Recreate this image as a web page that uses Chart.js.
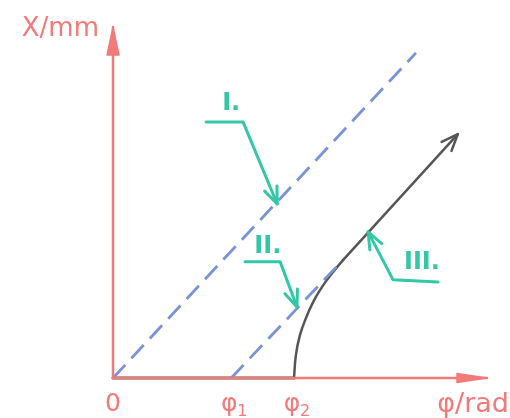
<!DOCTYPE html>
<html><head><meta charset="utf-8">
<script src="https://cdn.jsdelivr.net/npm/chart.js@4"></script>
<style>html,body{margin:0;padding:0;background:#fff}#c{display:block}</style>
</head><body>
<canvas id="c" width="510" height="418"></canvas>
<script>
// ---- data (arbitrary units) ----
const xAxisTitle = 'φ/rad';
const yAxisTitle = 'X/mm';
const tickValues = [0, 3.16, 4.84];
const tickNames = ['0', 'φ', 'φ'];
const tickSubs = ['', '1', '2'];
const axisXLine = [{x:0,y:0},{x:10,y:0}];
const axisYLine = [{x:0,y:0},{x:0,y:9.94}];
const lineI = [{x:0,y:0},{x:8.10,y:9.21}];
const lineII = [{x:3.16,y:0},{x:6.02,y:3.20}];
const curveIIIFlat = [{x:0,y:0},{x:4.84,y:0}];
const curveIIIBend = [{x:4.84,y:0},{x:4.89,y:0.65},{x:5.00,y:1.22},{x:5.16,y:1.70},{x:5.35,y:2.15},{x:5.59,y:2.58},{x:5.86,y:2.97},{x:6.15,y:3.34}];
const curveIIIRise = [{x:6.15,y:3.34},{x:9.22,y:6.91}];
const calloutNames = ['I.', 'II.', 'III.'];
const calloutTextAt = [{x:3.16,y:7.78},{x:4.14,y:3.71},{x:8.26,y:3.26}];
const calloutI = [{x:2.49,y:7.25},{x:3.48,y:7.25},{x:4.39,y:4.93}];
const calloutII = [{x:3.53,y:3.29},{x:4.47,y:3.29},{x:4.92,y:2.01}];
const calloutIII = [{x:8.69,y:2.72},{x:7.49,y:2.78},{x:6.82,y:4.14}];

// ---- styles ----
const RED = '#f27a7a', BLUE = '#7a92d6', GREY = '#565656', TEAL = '#33c7a6';

function ds(data, color, width, extra) {
  return Object.assign({data, borderColor: color, backgroundColor: color, borderWidth: width,
    showLine: true, pointRadius: 0, pointHoverRadius: 0, clip: false, tension: 0,
    borderCapStyle: 'round', borderJoinStyle: 'round'}, extra || {});
}

const datasets = [
  ds(axisXLine, RED, 2.5, {arrow: 'filledX'}),
  ds(axisYLine, RED, 2.5, {arrow: 'filledY'}),
  ds(lineI, BLUE, 2.8, {borderDash: [18, 9], borderCapStyle: 'butt'}),
  ds(lineII, BLUE, 2.8, {borderDash: [18, 9], borderCapStyle: 'butt'}),
  ds(curveIIIFlat, GREY, 3),
  ds(curveIIIBend, GREY, 2.5, {tension: 0.4}),
  ds(curveIIIRise, GREY, 2.5, {arrow: 'open'}),
  ds(calloutI, TEAL, 3, {arrow: 'open'}),
  ds(calloutII, TEAL, 3, {arrow: 'open'}),
  ds(calloutIII, TEAL, 3, {arrow: 'open'})
];

const sketchPlugin = {
  id: 'sketch',
  afterDatasetsDraw(chart) {
    const ctx = chart.ctx, xs = chart.scales.x, ys = chart.scales.y;
    const P = p => [xs.getPixelForValue(p.x), ys.getPixelForValue(p.y)];
    ctx.save();
    chart.data.datasets.forEach(d => {
      if (!d.arrow) return;
      const n = d.data.length;
      const [x1, y1] = P(d.data[n - 2]);
      const [x2, y2] = P(d.data[n - 1]);
      const a = Math.atan2(y2 - y1, x2 - x1);
      ctx.strokeStyle = d.borderColor; ctx.fillStyle = d.borderColor;
      ctx.lineWidth = d.borderWidth; ctx.lineCap = 'round'; ctx.lineJoin = 'round';
      if (d.arrow === 'open') {
        const L = 18, w = 0.38;
        ctx.beginPath();
        ctx.moveTo(x2 - L * Math.cos(a - w), y2 - L * Math.sin(a - w));
        ctx.lineTo(x2, y2);
        ctx.lineTo(x2 - L * Math.cos(a + w), y2 - L * Math.sin(a + w));
        ctx.stroke();
      } else {
        const L = d.arrow === 'filledY' ? 28 : 30, h = d.arrow === 'filledY' ? 6 : 4.5;
        const bx = x2 - L * Math.cos(a), by = y2 - L * Math.sin(a);
        const nx = -Math.sin(a), ny = Math.cos(a);
        ctx.lineWidth = 1.5;
        ctx.beginPath();
        ctx.moveTo(x2, y2);
        ctx.lineTo(bx + h * nx, by + h * ny);
        ctx.lineTo(bx - h * nx, by - h * ny);
        ctx.closePath();
        ctx.fill(); ctx.stroke();
      }
    });
    // axis titles
    ctx.fillStyle = RED;
    ctx.textBaseline = 'alphabetic';
    ctx.font = '26px "DejaVu Sans"';
    ctx.textAlign = 'right';
    const [ox, oy] = P({x:0, y:0});
    ctx.fillText(yAxisTitle, ox - 14, 36);
    ctx.font = '27px "DejaVu Sans"';
    ctx.fillText(xAxisTitle, 509, oy + 34);
    // tick labels
    tickValues.forEach((v, i) => {
      const px = xs.getPixelForValue(v);
      ctx.font = '25px "DejaVu Sans"';
      ctx.textAlign = 'center';
      ctx.fillText(tickNames[i], px + (tickSubs[i] ? -2 : 0), oy + 33);
      if (tickSubs[i]) {
        ctx.font = '16px "DejaVu Sans"';
        ctx.textAlign = 'left';
        ctx.fillText(tickSubs[i], px + 6, oy + 38);
      }
    });
    // callout labels
    ctx.fillStyle = TEAL;
    ctx.font = 'bold 24px "DejaVu Sans"';
    ctx.textAlign = 'center';
    ctx.textBaseline = 'middle';
    calloutNames.forEach((t, i) => {
      const [tx, ty] = P(calloutTextAt[i]);
      ctx.fillText(t, tx, ty);
    });
    ctx.restore();
  }
};

new Chart(document.getElementById('c'), {
  type: 'scatter',
  data: { datasets },
  options: {
    responsive: false, animation: false, events: [],
    layout: { padding: { left: 113, right: 23, top: 25, bottom: 40 } },
    plugins: { legend: { display: false }, tooltip: { enabled: false } },
    scales: {
      x: { type: 'linear', min: 0, max: 10, display: false },
      y: { type: 'linear', min: 0, max: 10, display: false }
    }
  },
  plugins: [sketchPlugin]
});
</script>
</body></html>
